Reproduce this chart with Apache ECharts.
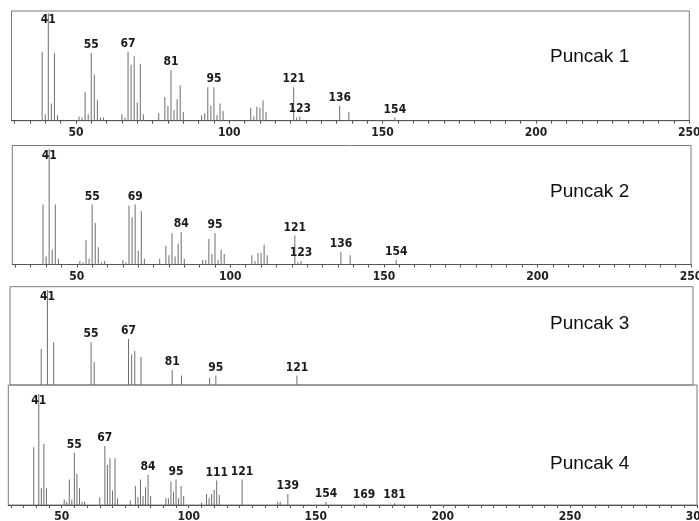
<!DOCTYPE html>
<html><head><meta charset="utf-8">
<script src="https://cdn.jsdelivr.net/npm/echarts@6/dist/echarts.min.js"></script>
<style>html,body{margin:0;padding:0;background:#fff}#c{width:699px;height:521px}</style>
</head><body><div id="c"></div>
<script>
// ---- Data (m/z and relative intensity, % of base peak 41) ----
const mz1  = [39,40,41,42,43,44, 51,52,53,54,55,56,57,58,59, 65,66,67,68,69,70,71,72, 77,79,80,81,82,83,84,85, 91,92,93,94,95,96,97,98, 107,108,109,110,111,112, 121,122,123, 136,139, 154];
const int1 = [64,6,100,16,63,5, 4,3,27,6,63,43,19,3,3, 6,3,64,52,60,17,53,6, 7,22,14,47,10,20,33,8, 5,7,31,14,31,5,16,9, 12,4,13,12,19,8, 31,3,4, 14,8, 3];
const lab1 = [41,55,67,81,95,121,123,136,154];

const mz2  = [39,40,41,42,43,44, 51,52,53,54,55,56,57,58,59, 65,66,67,68,69,70,71,72, 77,79,80,81,82,83,84,85, 91,92,93,94,95,96,97,98, 107,108,109,110,111,112, 121,122,123, 136,139, 154];
const int2 = [52,7,100,13,52,5, 3,2,21,5,52,36,15,2,3, 4,2,51,41,52,12,46,5, 5,16,8,27,7,18,28,5, 4,4,22,9,27,4,13,9, 8,3,10,10,17,8, 25,2,3, 11,8, 4];
const lab2 = [41,55,69,84,95,121,123,136,154];

const mz3  = [39,41,43,55,56,67,68,69,71,81,84,93,95,121];
const int3 = [47,100,53,53,35,56,42,45,40,28,23,21,23,23];
const lab3 = [41,55,67,81,95,121];

const mz4  = [39,41,42,43,44, 51,52,53,54,55,56,57,58,59, 65,67,68,69,70,71,72, 77,79,80,81,82,83,84,85, 91,92,93,94,95,96,97,98, 105,107,108,109,110,111,112, 121, 135,136,139, 154, 169, 181];
const int4 = [52,100,15,55,15, 5,3,23,5,47,28,15,3,3, 7,53,36,42,13,42,6, 4,17,7,23,8,16,27,8, 6,6,21,12,23,6,17,8, 2,10,6,10,14,22,9, 23, 3,3,10, 3, 1.5, 1.5];
const lab4 = [41,55,67,84,95,111,121,139,154,169,181];

const axisLabels1 = [50,100,150,200,250];
const axisLabels4 = [50,100,150,200,250,300];
const panelNames = ['Puncak 1','Puncak 2','Puncak 3','Puncak 4'];

// ---- Layout ----
const grids = [
  {left: 11.5, top: 11,    width: 677.8, height: 109.7},
  {left: 12.3, top: 145.5, width: 678.7, height: 119},
  {left: 10,   top: 286.7, width: 683,   height: 98.3},
  {left: 8.3,  top: 385,   width: 688.7, height: 120}
];
const xRanges = [[29,250],[29,250],[29,248],[29,300]];
const yRanges = [[0,102],[0,103],[14.5,103],[0,108]];
const titleTops = [47, 182, 314, 454];

function minorTicks(a, b){ const t=[]; for(let v=a; v<=b; v+=5) t.push(v); return t; }
const tickSets = [minorTicks(30,250), minorTicks(30,250), [], minorTicks(30,300)];
const labelSets = [axisLabels1, axisLabels1, [], axisLabels4];

const numFont = "'Liberation Sans Narrow', 'DejaVu Sans Condensed', sans-serif";

function buildData(mz, inten, labs){
  return mz.map((m,i)=>{
    const d = {value:[m, inten[i]]};
    if (labs.indexOf(m) >= 0){
      d.label = {show:true, position: m===41 ? 'insideTop' : 'top', distance: m===41 ? 1 : 2};
    }
    return d;
  });
}
const datasets = [buildData(mz1,int1,lab1), buildData(mz2,int2,lab2), buildData(mz3,int3,lab3), buildData(mz4,int4,lab4)];

const option = {
  animation: false,
  backgroundColor: '#fff',
  title: panelNames.map((n,i)=>({text:n, left:550, top:titleTops[i], padding:0,
      textStyle:{fontFamily:"'Liberation Sans', Arial, sans-serif", fontSize:19, fontWeight:'normal', color:'#111'}})),
  grid: grids.map(g=>Object.assign({show:true, borderColor:'#7a7a7a', borderWidth:1, backgroundColor:'transparent', containLabel:false, outerBoundsMode:'none'}, g)),
  xAxis: grids.map((g,i)=>({
    type:'value', gridIndex:i, min:xRanges[i][0], max:xRanges[i][1],
    show: i !== 2,
    splitLine:{show:false},
    axisLine:{show:true, onZero:false, lineStyle:{color:'#555', width:1}},
    axisTick:{show:true, inside:false, length:3, customValues: tickSets[i], lineStyle:{color:'#555'}},
    axisLabel:{show:true, customValues: labelSets[i], margin:6, fontFamily:numFont, fontWeight:'bold', fontSize:12, color:'#222', hideOverlap:false}
  })),
  yAxis: grids.map((g,i)=>({type:'value', gridIndex:i, min:yRanges[i][0], max:yRanges[i][1], show:false, splitLine:{show:false}})),
  series: datasets.map((d,i)=>({
    type:'bar', xAxisIndex:i, yAxisIndex:i, barWidth:1, data:d, clip:true,
    itemStyle:{color:'#6e6e6e'},
    label:{fontFamily:numFont, fontWeight:'bold', fontSize:12, color:'#1a1a1a', formatter:p=>String(p.value[0])},
    emphasis:{disabled:true}
  }))
};
const chart = echarts.init(document.getElementById('c'), null, {renderer:'canvas'});
chart.setOption(option);
</script>
</body></html>
